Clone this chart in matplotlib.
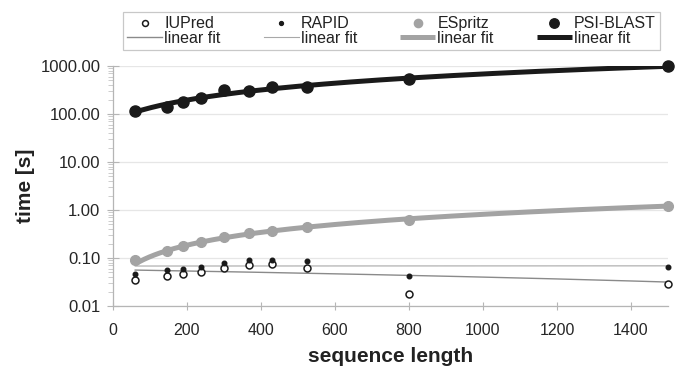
import numpy as np
import matplotlib
matplotlib.use("Agg")
import matplotlib.pyplot as plt
from matplotlib.ticker import LogLocator, FixedLocator, FormatStrFormatter, NullFormatter

# ---- data ----
seq_len = [60, 147, 188, 237, 301, 367, 429, 525, 799, 1500]
iupred = [0.035, 0.042, 0.047, 0.051, 0.062, 0.071, 0.076, 0.062, 0.018, 0.029]
rapid = [0.046, 0.056, 0.059, 0.066, 0.077, 0.092, 0.092, 0.086, 0.043, 0.065]
espritz = [0.090, 0.137, 0.180, 0.211, 0.268, 0.326, 0.358, 0.434, 0.63, 1.22]
psiblast = [114, 137, 179, 217, 315, 296, 358, 362, 527, 1000]

x_ticks = [0, 200, 400, 600, 800, 1000, 1200, 1400]
y_ticks = [0.01, 0.1, 1, 10, 100, 1000]

plt.rcParams['font.family'] = ['Liberation Sans', 'DejaVu Sans']

fig = plt.figure(figsize=(6.75, 3.68), dpi=100)
ax = fig.add_axes([113 / 675, 1 - 306 / 368, (668 - 113) / 675, (306 - 66) / 368])

x = np.array(seq_len, dtype=float)
xf = np.linspace(x[0], x[-1], 300)

def fit(yv):
    b, a = np.polyfit(x, np.array(yv, dtype=float), 1)
    return a + b * xf

dark = '#1a1a1a'
mid = '#a3a3a3'

# fits
l_iu, = ax.plot(xf, fit(iupred), color='#8a8a8a', lw=1.0, zorder=2)
l_ra, = ax.plot(xf, fit(rapid), color='#a8a8a8', lw=0.8, zorder=2)
l_es, = ax.plot(xf, fit(espritz), color=mid, lw=3.6, zorder=2, solid_capstyle='butt')
l_ps, = ax.plot(xf, fit(psiblast), color=dark, lw=3.6, zorder=2, solid_capstyle='butt')

# markers
m_iu, = ax.plot(x, iupred, 'o', ms=5, mfc='white', mec=dark, mew=1.1, ls='none', zorder=4, clip_on=False)
m_ra, = ax.plot(x, rapid, 'o', ms=3.3, mfc=dark, mec=dark, ls='none', zorder=5, clip_on=False)
m_es, = ax.plot(x, espritz, 'o', ms=7, mfc=mid, mec=mid, ls='none', zorder=3, clip_on=False)
m_ps, = ax.plot(x, psiblast, 'o', ms=8, mfc=dark, mec=dark, ls='none', zorder=3, clip_on=False)

ax.set_yscale('log')
ax.set_ylim(0.01, 1000)
ax.set_xlim(0, 1500)
ax.set_xticks(x_ticks)
ax.yaxis.set_major_locator(FixedLocator(y_ticks))
ax.yaxis.set_major_formatter(FormatStrFormatter('%.2f'))
ax.yaxis.set_minor_locator(LogLocator(base=10, subs=np.arange(2, 10) * 1.0, numticks=20))
ax.yaxis.set_minor_formatter(NullFormatter())

for s in ['top', 'right']:
    ax.spines[s].set_visible(False)
for s in ['left', 'bottom']:
    ax.spines[s].set_color('#b5b5b5')
    ax.spines[s].set_linewidth(0.9)

ax.grid(axis='y', which='major', color='#e6e6e6', lw=0.9, zorder=0)
ax.set_axisbelow(True)

ax.tick_params(axis='y', which='major', direction='inout', length=8, width=0.8, color='#b5b5b5',
               labelsize=12, labelcolor='#262626', pad=5)
ax.tick_params(axis='y', which='minor', direction='out', length=3.5, width=0.6, color='#c5c5c5')
ax.tick_params(axis='x', which='major', direction='inout', length=6, width=0.8, color='#b5b5b5',
               labelsize=11.5, labelcolor='#262626', pad=9)

ax.set_xlabel('sequence length', fontsize=15, fontweight='bold', color='#222222', labelpad=7)
ax.set_ylabel('time [s]', fontsize=15, fontweight='bold', color='#222222', labelpad=4)

handles = [m_iu, l_iu, m_ra, l_ra, m_es, l_es, m_ps, l_ps]
labels = ['IUPred', 'linear fit', 'RAPID', 'linear fit', 'ESpritz', 'linear fit', 'PSI-BLAST', 'linear fit']
leg = fig.legend(handles, labels, ncol=4, loc='center',
                 bbox_to_anchor=((123 + 660) / 2 / 675, 1 - 31 / 368),
                 fontsize=11.5, frameon=True, fancybox=False, framealpha=1,
                 edgecolor='#c8c8c8', handlelength=2.2, handletextpad=0.12,
                 columnspacing=2.7, labelspacing=-0.05, borderpad=0.25, markerscale=0.85)
leg.get_frame().set_linewidth(0.9)
for t in leg.get_texts():
    t.set_color('#222222')

fig.savefig('out.png', dpi=100)
